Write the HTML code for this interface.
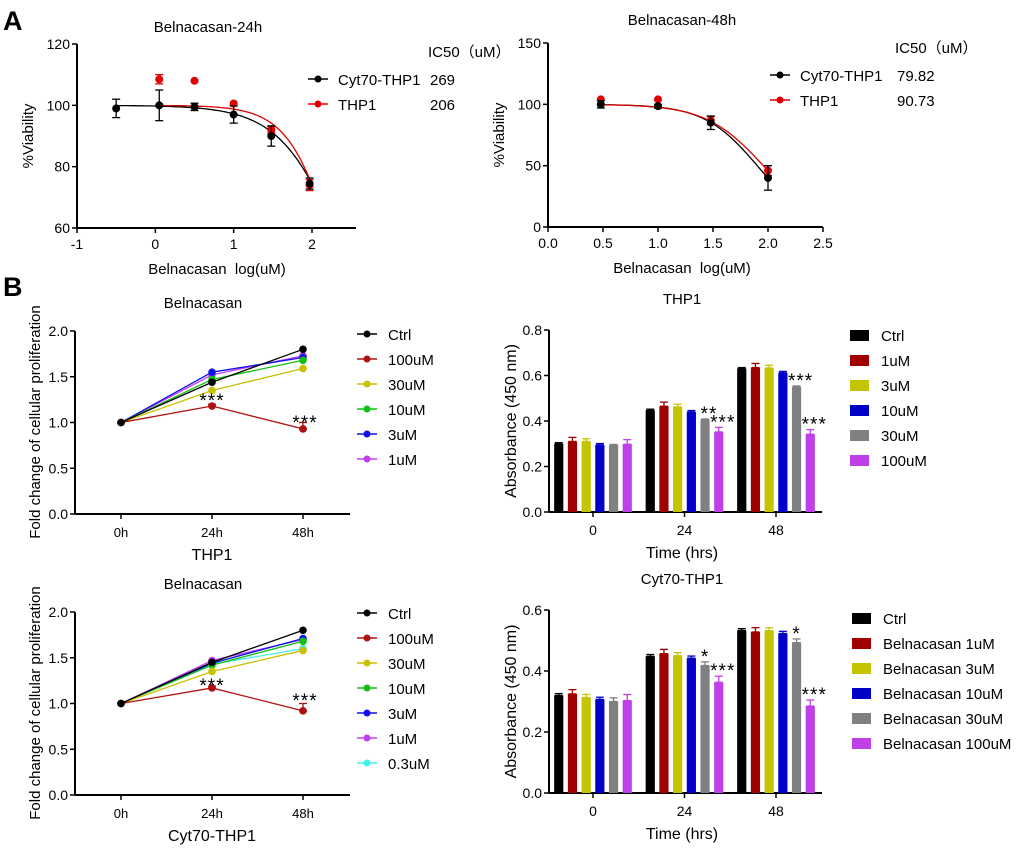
<!DOCTYPE html>
<html><head><meta charset="utf-8"><style>
body{margin:0;background:#fff;}
svg{display:block;font-family:"Liberation Sans",Arial,sans-serif;}
</style></head><body>
<svg id="fig" width="1020" height="848" viewBox="0 0 1020 848" xmlns="http://www.w3.org/2000/svg">
<text x="3" y="30" font-size="27" font-weight="bold">A</text>
<text x="3" y="296" font-size="27" font-weight="bold">B</text>
</svg>
<script>
// ---- Panel A1 data (24h) ----
const a1Ticks=[-1,0,1,2];
const a1YTicks=[60,80,100,120];
const a1BlackX=[-0.5,0.05,0.5,1.0,1.48,1.97];
const a1BlackY=[99,100,99.5,97,90,74.5];
const a1BlackErr=[3,5,1.2,2.8,3.3,1.8];
const a1RedX=[0.05,0.5,1.0,1.48,1.97];
const a1RedY=[108.5,108,100.6,92,74];
const a1RedErr=[1.5,0,0,1,1.8];
const a1IC50=[269,206];
const a1Hill=[1.08,1.45];
// ---- Panel A2 data (48h) ----
const a2Ticks=[0,0.5,1.0,1.5,2.0,2.5];
const a2YTicks=[0,50,100,150];
const a2BlackX=[0.48,1.0,1.48,2.0];
const a2BlackY=[100,98.5,85,40];
const a2BlackErr=[3,1.5,5.5,10];
const a2RedX=[0.48,1.0,1.48,2.0];
const a2RedY=[104,104,87,46];
const a2RedErr=[0,0,3,4];
const a2IC50=[79.82,90.73];
const a2Hill=[1.8,1.66];
// ---- Panel B line charts ----
const timeCats=["0h","24h","48h"];
const lineYTicks=[0.0,0.5,1.0,1.5,2.0];
const b1Names=["Ctrl","100uM","30uM","10uM","3uM","1uM"];
const b1Ctrl=[1,1.44,1.80];
const b1U100=[1,1.18,0.93];
const b1U30=[1,1.35,1.59];
const b1U10=[1,1.47,1.68];
const b1U3=[1,1.55,1.71];
const b1U1=[1,1.52,1.73];
const b1Err100=[0,0.02,0.07];
const b3Names=["Ctrl","100uM","30uM","10uM","3uM","1uM","0.3uM"];
const b3Ctrl=[1,1.45,1.80];
const b3U100=[1,1.17,0.92];
const b3U30=[1,1.35,1.58];
const b3U10=[1,1.42,1.68];
const b3U3=[1,1.44,1.71];
const b3U1=[1,1.47,1.70];
const b3U03=[1,1.43,1.60];
const b3Err100=[0,0.02,0.08];
// ---- Panel B bar charts ----
const barCats=["0","24","48"];
const b2YTicks=[0.0,0.2,0.4,0.6,0.8];
const b2Names=["Ctrl","1uM","3uM","10uM","30uM","100uM"];
const b2Ctrl=[0.30,0.447,0.630];
const b2U1=[0.310,0.465,0.635];
const b2U3=[0.310,0.462,0.633];
const b2U10=[0.295,0.440,0.612];
const b2U30=[0.293,0.405,0.550];
const b2U100=[0.298,0.352,0.342];
const b2Err=[0.005,0.018,0.012,0.006,0.004,0.02];
const b2Stars=[["","",""],["","",""],["","",""],["","",""],["","**","***"],["","***","***"]];
const b4YTicks=[0.0,0.2,0.4,0.6];
const b4Names=["Ctrl","Belnacasan 1uM","Belnacasan 3uM","Belnacasan 10uM","Belnacasan 30uM","Belnacasan 100uM"];
const b4Ctrl=[0.320,0.448,0.533];
const b4U1=[0.325,0.457,0.528];
const b4U3=[0.313,0.450,0.532];
const b4U10=[0.307,0.442,0.523];
const b4U30=[0.300,0.418,0.493];
const b4U100=[0.303,0.363,0.285];
const b4Err=[0.006,0.014,0.01,0.007,0.012,0.02];
const b4Stars=[["","",""],["","",""],["","",""],["","",""],["","*","*"],["","***","***"]];

const NS="http://www.w3.org/2000/svg";
const svg=document.getElementById('fig');
function el(tag,attrs,parent,txt){const e=document.createElementNS(NS,tag);for(const k in attrs)e.setAttribute(k,attrs[k]);if(txt!==undefined)e.textContent=txt;(parent||svg).appendChild(e);return e;}
function grp(name){const g=el('g',{});


return g;}
function txt(p,x,y,s,size,anchor,name,extra){const t=el('text',Object.assign({x:x,y:y,'font-size':size,'text-anchor':anchor||'middle'},extra||{}),p,s);


return t;}

function yAxis(g,x,sy,ticks,fmt,name){
 const l=el('line',{x1:x,x2:x,y1:sy(ticks[ticks.length-1]),y2:sy(ticks[0]),stroke:'#000','stroke-width':2},g);
 
 
 ticks.forEach(v=>{el('line',{x1:x-5,x2:x,y1:sy(v),y2:sy(v),stroke:'#000','stroke-width':1.5},g);
  txt(g,x-7,sy(v)+5,fmt(v),14,'end','y-tick-label');});
}
function xAxisLine(g,x0,x1,y,name){const l=el('line',{x1:x0,x2:x1,y1:y,y2:y,stroke:'#000','stroke-width':2},g);
 
 }

function errbar(g,x,y1,y2,c){el('line',{x1:x,x2:x,y1:y1,y2:y2,stroke:c,'stroke-width':1.3},g);
 el('line',{x1:x-4,x2:x+4,y1:y1,y2:y1,stroke:c,'stroke-width':1.3},g);
 el('line',{x1:x-4,x2:x+4,y1:y2,y2:y2,stroke:c,'stroke-width':1.3},g);}

// ---------- Dose response panels ----------
function dosePanel(o){
 const g=grp(o.name);
 const sx=v=>o.x0+(v-o.xt[0])/(o.xt[o.xt.length-1]-o.xt[0])*(o.xs1-o.x0);
 const sy=v=>o.yb-(v-o.yt[0])/(o.yt[o.yt.length-1]-o.yt[0])*(o.yb-o.ytop);
 txt(g,o.tx,o.ty,o.title,15,'middle','chart-title');
 yAxis(g,o.x0,sy,o.yt,v=>String(v),'y-axis');
 xAxisLine(g,o.x0,o.x1,o.yb,'x-axis');
 o.xt.forEach(v=>{el('line',{x1:sx(v),x2:sx(v),y1:o.yb,y2:o.yb+5,stroke:'#000','stroke-width':1.5},g);
  txt(g,sx(v),o.yb+21,o.xfmt(v),14,'middle','x-tick-label');});
 txt(g,o.tx2,o.yb+46,'Belnacasan\u00a0\u00a0log(uM)',15,'middle','x-axis-title');
 txt(g,0,0,'%Viability',15,'middle','y-axis-title',{transform:`translate(${o.x0-44},${(o.ytop+o.yb)/2}) rotate(-90)`});
 const series=[{X:o.bx,Y:o.by,E:o.be,c:'#000',ic:o.ic[0],h:o.h[0],n:'Cyt70-THP1'},{X:o.rx,Y:o.ry,E:o.re,c:'#e00000',ic:o.ic[1],h:o.h[1],n:'THP1'}];
 series.forEach((s,si)=>{
  const lg=Math.log10(s.ic);let d='';
  const xs=s.X[0], xe=s.X[s.X.length-1];
  for(let i=0;i<=80;i++){const x=xs+(xe-xs)*i/80;const y=100/(1+Math.pow(10,(x-lg)*s.h));d+=(i?'L':'M')+sx(x).toFixed(1)+','+sy(y).toFixed(1);}
  const p=el('path',{d:d,fill:'none',stroke:s.c,'stroke-width':1.3},g);
  
  
 });
 [1,0].forEach(si=>{const s=series[si];
  s.X.forEach((x,i)=>{if(s.E[i])errbar(g,sx(x),sy(s.Y[i]+s.E[i]),sy(s.Y[i]-s.E[i]),s.c);
   const c=el('circle',{cx:sx(x),cy:sy(s.Y[i]),r:4,fill:s.c},g);
   
   });
 });
 txt(g,o.lx+o.vo-2,o.ly-22,'IC50（uM）',15,'start','ic50-header');
 series.forEach((s,i)=>{const y=o.ly+i*25;
  const lg=grp('legend-entry');g.appendChild(lg);
  el('line',{x1:o.lx-30,x2:o.lx-10,y1:y,y2:y,stroke:s.c,'stroke-width':1.5},lg);
  el('circle',{cx:o.lx-20,cy:y,r:3.5,fill:s.c},lg);
  txt(lg,o.lx,y+6,s.n,15,'start','legend-label');
  txt(lg,o.lx+o.vo,y+6,String(s.ic),15,'start','ic50-value');});
}
dosePanel({name:'dose-response-24h',x0:77,x1:356,xs1:312,xt:a1Ticks,ytop:44,yb:228,yt:a1YTicks,
 xfmt:v=>String(v),title:'Belnacasan-24h',tx:208,ty:32,tx2:217,bx:a1BlackX,by:a1BlackY,be:a1BlackErr,rx:a1RedX,ry:a1RedY,re:a1RedErr,ic:a1IC50,h:a1Hill,lx:338,ly:79,vo:92});
dosePanel({name:'dose-response-48h',x0:548,x1:823,xs1:823,xt:a2Ticks,ytop:43,yb:227,yt:a2YTicks,
 xfmt:v=>v.toFixed(1),title:'Belnacasan-48h',tx:682,ty:25,tx2:682,bx:a2BlackX,by:a2BlackY,be:a2BlackErr,rx:a2RedX,ry:a2RedY,re:a2RedErr,ic:a2IC50,h:a2Hill,lx:800,ly:75,vo:97});

// ---------- Line panels ----------
function linePanel(o){
 const g=grp(o.name);
 const sy=v=>o.yb-v/2*(o.yb-o.ytop);
 const sx=i=>121+i*91;
 txt(g,203,o.ytop-23,'Belnacasan',15,'middle','chart-title');
 yAxis(g,75,sy,lineYTicks,v=>v.toFixed(1),'y-axis');
 xAxisLine(g,75,350,o.yb,'x-axis');
 timeCats.forEach((c,i)=>{el('line',{x1:sx(i),x2:sx(i),y1:o.yb,y2:o.yb+5,stroke:'#000','stroke-width':1.5},g);
  txt(g,sx(i),o.yb+23,c,13,'middle','x-tick-label');});
 txt(g,212,o.yb+46,o.xlabel,16,'middle','x-axis-title');
 txt(g,0,0,'Fold change of cellular proliferation',15,'middle','y-axis-title',{transform:`translate(40,${o.yb-92}) rotate(-90)`});
 const order=o.series.map((s,i)=>i).reverse();
 order.forEach(si=>{const s=o.series[si];
  const d=s.v.map((v,i)=>(i?'L':'M')+sx(i)+','+sy(v)).join('');
  const p=el('path',{d:d,fill:'none',stroke:s.c,'stroke-width':1.3},g);
  
  
  if(s.e)s.v.forEach((v,i)=>{if(s.e[i])errbar(g,sx(i),sy(v+s.e[i]),sy(v),s.c);});
  s.v.forEach((v,i)=>{const c=el('circle',{cx:sx(i),cy:sy(v),r:3.8,fill:s.c},g);
   
   });
 });
 o.stars.forEach((st,i)=>txt(g,sx(i+1)+(i?2:0),st,'***',19,'middle','significance-stars',{'letter-spacing':'1'}));
 o.series.forEach((s,i)=>{const y=o.ly+i*25;
  const lg=grp('legend-entry');g.appendChild(lg);
  el('line',{x1:357,x2:377,y1:y,y2:y,stroke:s.c,'stroke-width':1.5},lg);
  el('circle',{cx:367,cy:y,r:3.5,fill:s.c},lg);
  txt(lg,388,y+6,s.n,15,'start','legend-label');});
}
const LC=['#000','#b01010','#c8c000','#10c010','#1010e8','#c040f0','#40f0f0'];
linePanel({name:'proliferation-thp1',ytop:331,yb:514,xlabel:'THP1',ly:334,stars:[407,429],
 series:[{n:b1Names[0],v:b1Ctrl,c:LC[0]},{n:b1Names[1],v:b1U100,c:LC[1],e:b1Err100},{n:b1Names[2],v:b1U30,c:LC[2]},{n:b1Names[3],v:b1U10,c:LC[3]},{n:b1Names[4],v:b1U3,c:LC[4]},{n:b1Names[5],v:b1U1,c:LC[5]}]});
linePanel({name:'proliferation-cyt70',ytop:612,yb:795,xlabel:'Cyt70-THP1',ly:613,stars:[692,707],
 series:[{n:b3Names[0],v:b3Ctrl,c:LC[0]},{n:b3Names[1],v:b3U100,c:LC[1],e:b3Err100},{n:b3Names[2],v:b3U30,c:LC[2]},{n:b3Names[3],v:b3U10,c:LC[3]},{n:b3Names[4],v:b3U3,c:LC[4]},{n:b3Names[5],v:b3U1,c:LC[5]},{n:b3Names[6],v:b3U03,c:LC[6]}]});

// ---------- Bar panels ----------
const BC=['#000','#a00000','#c4c400','#0000c8','#808080','#c040e8'];
function barPanel(o){
 const g=grp(o.name);
 const ymax=o.yt[o.yt.length-1];
 const sy=v=>o.yb-v/ymax*(o.yb-o.ytop);
 const gx=i=>593+i*91.5;
 txt(g,682,o.ytop-26,o.title,15,'middle','chart-title');
 yAxis(g,549,sy,o.yt,v=>v.toFixed(1),'y-axis');
 xAxisLine(g,549,822,o.yb,'x-axis');
 barCats.forEach((c,i)=>{el('line',{x1:gx(i),x2:gx(i),y1:o.yb,y2:o.yb+5,stroke:'#000','stroke-width':1.5},g);
  txt(g,gx(i),o.yb+23,c,14,'middle','x-tick-label');});
 txt(g,682,o.yb+46,'Time (hrs)',16,'middle','x-axis-title');
 txt(g,0,0,'Absorbance (450 nm)',16,'middle','y-axis-title',{transform:`translate(516,${(o.ytop+o.yb)/2}) rotate(-90)`});
 o.series.forEach((vals,si)=>{
  vals.forEach((v,i)=>{const cx=gx(i)-34.25+si*13.7;
   errbar(g,cx,sy(v+o.err[si]),sy(v),BC[si]);
   const r=el('rect',{x:cx-4.6,y:sy(v),width:9.2,height:o.yb-sy(v),fill:BC[si]},g);
   
   
   const st=o.stars[si][i];
   if(st)txt(g,cx+(st.length>1?4:0),sy(v+o.err[si])+1,st,19,'middle','significance-stars',{'letter-spacing':'1'});
  });
 });
 o.names.forEach((n,i)=>{const y=o.ly+i*25;
  const lg=grp('legend-entry');g.appendChild(lg);
  el('rect',{x:o.lx,y:y-5,width:19,height:11,fill:BC[i]},lg);
  txt(lg,o.lx+31,y+6,n,15,'start','legend-label');});
}
barPanel({name:'absorbance-thp1',title:'THP1',ytop:330,yb:512,yt:b2YTicks,names:b2Names,series:[b2Ctrl,b2U1,b2U3,b2U10,b2U30,b2U100],err:b2Err,stars:b2Stars,lx:850,ly:335});
barPanel({name:'absorbance-cyt70',title:'Cyt70-THP1',ytop:610,yb:793,yt:b4YTicks,names:b4Names,series:[b4Ctrl,b4U1,b4U3,b4U10,b4U30,b4U100],err:b4Err,stars:b4Stars,lx:852,ly:618});
</script>
</body></html>
